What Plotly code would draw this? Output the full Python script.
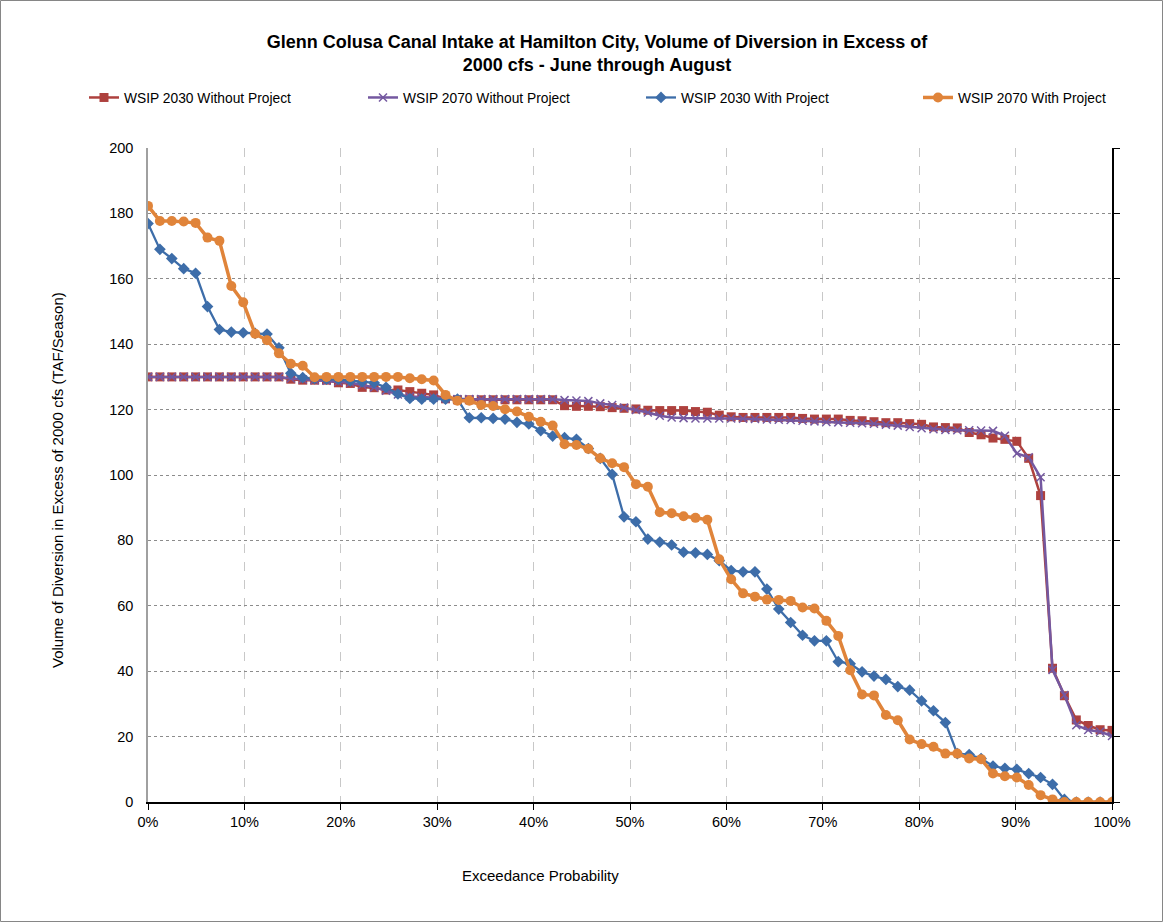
import plotly.graph_objects as go

# Exceedance probability: 82 ranked seasons, plotted from 0% to 100%
n_points = 82
exceedance = [i / (n_points - 1) for i in range(n_points)]

wsip_2030_without = [
    130.0, 130.0, 130.0, 130.0, 130.0, 130.0, 130.0, 130.0, 130.0, 130.0,
    130.0, 130.0, 129.3, 129.0, 129.0, 129.0, 128.2, 128.0, 126.8, 126.7,
    126.0, 126.0, 125.5, 125.0, 124.5, 123.3, 123.0, 123.0, 123.0, 123.0,
    123.0, 123.0, 123.0, 123.0, 123.0, 121.2, 121.0, 121.0, 120.9, 120.6,
    120.4, 120.2, 119.8, 119.7, 119.7, 119.7, 119.4, 119.2, 118.3, 117.8,
    117.6, 117.6, 117.6, 117.6, 117.6, 117.3, 117.1, 117.1, 117.1, 116.7,
    116.6, 116.3, 116.0, 116.0, 115.7, 115.5, 114.7, 114.5, 114.4, 113.0,
    112.3, 111.3, 110.9, 110.3, 105.1, 93.7, 40.9, 32.5, 25.1, 23.4,
    22.1, 21.9,
]

wsip_2070_without = [
    130.0, 130.0, 130.0, 130.0, 130.0, 130.0, 130.0, 130.0, 130.0, 130.0,
    130.0, 130.0, 129.5, 129.2, 129.0, 128.8, 128.5, 128.2, 127.5, 126.8,
    125.8, 124.6, 124.0, 123.8, 123.6, 123.4, 123.2, 123.2, 123.2, 123.2,
    123.2, 123.2, 123.2, 123.2, 123.2, 122.9, 122.8, 122.6, 121.9, 121.4,
    120.6, 119.9, 119.1, 118.1, 117.6, 117.4, 117.3, 117.3, 117.3, 117.3,
    117.2, 117.1, 117.0, 116.9, 116.8, 116.6, 116.4, 116.2, 116.1, 116.0,
    115.8, 115.7, 115.4, 115.1, 114.7, 114.3, 114.0, 113.8, 113.7, 113.7,
    113.6, 113.5, 112.0, 106.6, 105.4, 99.3, 40.4, 32.7, 23.5, 22.0,
    21.5, 20.2,
]

wsip_2030_with = [
    176.9, 169.0, 166.2, 163.1, 161.7, 151.5, 144.5, 143.7, 143.5, 143.3,
    143.1, 138.9, 131.1, 129.8, 129.5, 129.3, 129.2, 128.8, 128.5, 128.2,
    126.8, 124.8, 123.4, 123.2, 123.2, 123.2, 123.2, 117.5, 117.5, 117.3,
    117.1, 116.1, 115.6, 113.6, 111.9, 111.4, 110.9, 108.1, 105.1, 100.2,
    87.2, 85.7, 80.4, 79.5, 78.6, 76.4, 76.2, 75.7, 73.8, 70.8,
    70.4, 70.4, 65.1, 59.0, 54.9, 51.0, 49.3, 49.3, 42.9, 42.3,
    39.8, 38.5, 37.5, 35.3, 34.2, 30.9, 27.9, 24.3, 14.8, 14.5,
    13.3, 11.0, 10.3, 10.0, 8.7, 7.5, 5.4, 0.8, 0.0, 0.0,
    0.0, 0.0,
]

wsip_2070_with = [
    182.3, 177.7, 177.7, 177.5, 177.1, 172.6, 171.6, 157.8, 152.8, 143.2,
    141.2, 137.2, 134.0, 133.4, 129.9, 130.0, 130.0, 130.0, 130.0, 130.0,
    130.0, 130.0, 129.6, 129.3, 128.9, 124.5, 122.7, 122.7, 121.4, 121.1,
    120.1, 119.4, 117.8, 116.3, 115.1, 109.4, 109.2, 108.0, 105.1, 103.6,
    102.4, 97.2, 96.4, 88.6, 88.3, 87.4, 86.9, 86.3, 74.2, 68.1,
    63.8, 62.8, 61.9, 61.8, 61.5, 59.5, 59.2, 55.4, 50.8, 40.3,
    32.9, 32.6, 26.6, 25.0, 19.1, 17.7, 16.9, 14.8, 14.8, 13.3,
    13.1, 8.7, 7.9, 7.5, 5.2, 2.1, 0.8, 0.0, 0.0, 0.0,
    0.0, 0.0,
]

x_ticks = [i / 10 for i in range(11)]
x_tick_labels = [f"{i * 10}%" for i in range(11)]
y_ticks = list(range(0, 201, 20))

FONT = "Arial, Liberation Sans, sans-serif"
W, H = 1164, 922
ML, MR, MT, MB = 148, 52, 148, 120
PW, PH = W - ML - MR, H - MT - MB

fig = go.Figure()

fig.add_trace(go.Scatter(
    x=exceedance, y=wsip_2030_without, name="WSIP 2030 Without Project",
    mode="lines+markers", legend="legend",
    line=dict(color="#AE413E", width=2.5),
    marker=dict(symbol="square", size=9, color="#AE413E"),
))
fig.add_trace(go.Scatter(
    x=exceedance, y=wsip_2070_without, name="WSIP 2070 Without Project",
    mode="lines+markers", legend="legend2",
    line=dict(color="#7458A0", width=2.5),
    marker=dict(symbol="x-thin", size=8, color="#7458A0",
                line=dict(color="#7458A0", width=1.5)),
))
fig.add_trace(go.Scatter(
    x=exceedance, y=wsip_2030_with, name="WSIP 2030 With Project",
    mode="lines+markers", legend="legend3",
    line=dict(color="#3D6DA9", width=2.3),
    marker=dict(symbol="diamond", size=9, color="#3D6DA9"),
))
fig.add_trace(go.Scatter(
    x=exceedance, y=wsip_2070_with, name="WSIP 2070 With Project",
    mode="lines+markers", legend="legend4",
    line=dict(color="#E0843A", width=3.5),
    marker=dict(symbol="circle", size=10, color="#E0843A"),
))
# helper trace so that the right-hand tick axis is drawn
fig.add_trace(go.Scatter(
    x=[exceedance[0]], y=[None], yaxis="y2", showlegend=False,
    hoverinfo="skip", mode="lines",
))


def legend_at(px_left):
    return dict(
        orientation="h",
        x=(px_left - ML) / PW, xanchor="left",
        y=1 + (MT - 82) / PH, yanchor="top",
        font=dict(family=FONT, size=13.8),
        bgcolor="rgba(0,0,0,0)",
    )


fig.update_layout(
    width=W, height=H,
    margin=dict(l=ML, r=MR, t=MT, b=MB),
    paper_bgcolor="white", plot_bgcolor="white",
    font=dict(family=FONT, size=14, color="#000000"),
    title=dict(
        text="Glenn Colusa Canal Intake at Hamilton City, Volume of Diversion in Excess of<br>2000 cfs - June through August",
        font=dict(family=FONT, size=18, color="#000000", weight="bold"),
        x=597 / W, xref="container", xanchor="center",
        y=1 - 48 / H, yref="container", yanchor="top",
    ),
    showlegend=True,
    legend=legend_at(84),
    legend2=legend_at(363),
    legend3=legend_at(641),
    legend4=legend_at(918),
    xaxis=dict(
        range=[0, 1], tickvals=x_ticks, ticktext=x_tick_labels,
        showgrid=True, gridcolor="#C8C8C8", griddash="dash", gridwidth=1,
        showline=True, linecolor="#000000", linewidth=1.5,
        ticks="outside", ticklen=6, tickcolor="#000000",
        tickfont=dict(family=FONT, size=14.5),
        zeroline=False, fixedrange=True,
    ),
    yaxis=dict(
        range=[0, 200], tickvals=y_ticks,
        showgrid=True, gridcolor="#8C8C8C", griddash="dot", gridwidth=1,
        showline=True, linecolor="#A0A0A0", linewidth=1.5,
        ticks="", ticklabelstandoff=10,
        tickfont=dict(family=FONT, size=14.5),
        zeroline=False, fixedrange=True,
    ),
    yaxis2=dict(
        range=[0, 200], tickvals=y_ticks, overlaying="y", side="right",
        showticklabels=False, showgrid=False, zeroline=False,
        showline=True, linecolor="#000000", linewidth=1.5,
        ticks="outside", ticklen=6, tickcolor="#000000", fixedrange=True,
    ),
    annotations=[
        dict(text="Exceedance Probability", xref="paper", yref="paper",
             x=(540 - ML) / PW, y=-(875 - 802) / PH,
             xanchor="center", yanchor="middle", showarrow=False,
             font=dict(family=FONT, size=15)),
        dict(text="Volume of Diversion in Excess of 2000 cfs (TAF/Season)",
             xref="paper", yref="paper",
             x=(57 - ML) / PW, y=(802 - 480) / PH,
             xanchor="center", yanchor="middle", textangle=-90,
             showarrow=False, font=dict(family=FONT, size=15)),
    ],
    shapes=[
        dict(type="rect", xref="paper", yref="paper",
             x0=-(ML - 0.5) / PW, x1=1 + (MR - 1.5) / PW,
             y0=-(MB - 0.5) / PH, y1=1 + (MT - 0.5) / PH,
             line=dict(color="#868686", width=1), layer="below"),
    ],
)

fig.write_html("out.html")
